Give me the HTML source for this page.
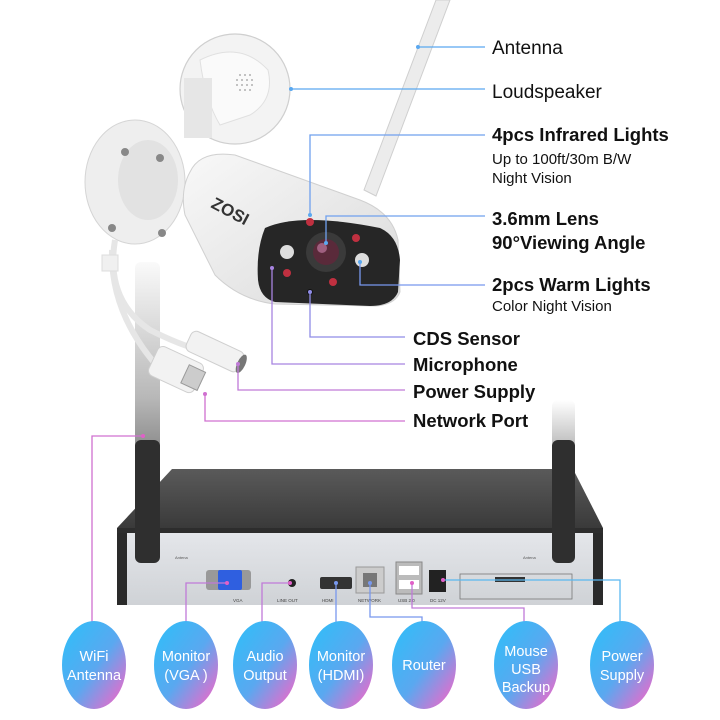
<!DOCTYPE html>
<html><head><meta charset="utf-8"><style>
body{margin:0;background:#fff;}
svg{display:block;font-family:"Liberation Sans",sans-serif;}
</style></head><body>
<svg width="720" height="720" viewBox="0 0 720 720" xmlns="http://www.w3.org/2000/svg">
<defs>
<linearGradient id="ant" x1="0" y1="0" x2="0" y2="1"><stop offset="0" stop-color="#fafafa"/><stop offset="0.45" stop-color="#b8b8b8"/><stop offset="1" stop-color="#2e2e2e"/></linearGradient>
<linearGradient id="antR" x1="0" y1="0" x2="0" y2="1"><stop offset="0" stop-color="#fff"/><stop offset="0.5" stop-color="#8a8a8a"/><stop offset="1" stop-color="#2e2e2e"/></linearGradient>
<linearGradient id="top" x1="0" y1="0" x2="0" y2="1"><stop offset="0" stop-color="#5a5a5a"/><stop offset="1" stop-color="#3a3a3a"/></linearGradient>
<linearGradient id="front" x1="0" y1="0" x2="0" y2="1"><stop offset="0" stop-color="#e4e6ea"/><stop offset="1" stop-color="#cfd2d6"/></linearGradient>
<linearGradient id="circ" x1="0.15" y1="0.2" x2="0.85" y2="0.9"><stop offset="0" stop-color="#3bb8f6"/><stop offset="0.5" stop-color="#5aa8f0"/><stop offset="1" stop-color="#d872cf"/></linearGradient>
<linearGradient id="body" x1="0" y1="0" x2="1" y2="1"><stop offset="0" stop-color="#f8f8f8"/><stop offset="1" stop-color="#dadada"/></linearGradient>
</defs>

<rect x="135" y="262" width="25" height="300" rx="6" fill="url(#ant)"/>
<rect x="552" y="400" width="23" height="162" rx="6" fill="url(#antR)"/>

<!-- camera antenna -->
<polygon points="436,0 450,0 376,196 364,190" fill="#ececec" stroke="#cfcfcf"/>

<!-- loudspeaker inset -->
<circle cx="235" cy="89" r="55" fill="#f3f3f3" stroke="#cfcfcf" stroke-width="1.2"/>
<path d="M200,60 Q240,40 268,70 Q275,100 250,115 L220,125 Q205,100 200,60Z" fill="#fafafa" stroke="#e0e0e0"/>
<rect x="184" y="78" width="28" height="60" fill="#e6e6e6"/>
<g fill="#9a9a9a">
<circle cx="240" cy="75" r="0.9"/><circle cx="245" cy="75" r="0.9"/><circle cx="250" cy="75" r="0.9"/>
<circle cx="237" cy="80" r="0.9"/><circle cx="242" cy="80" r="0.9"/><circle cx="247" cy="80" r="0.9"/><circle cx="252" cy="80" r="0.9"/>
<circle cx="237" cy="85" r="0.9"/><circle cx="242" cy="85" r="0.9"/><circle cx="247" cy="85" r="0.9"/><circle cx="252" cy="85" r="0.9"/>
<circle cx="240" cy="90" r="0.9"/><circle cx="245" cy="90" r="0.9"/><circle cx="250" cy="90" r="0.9"/>
</g>

<!-- camera mount -->
<ellipse cx="135" cy="182" rx="50" ry="62" fill="#eeeeee" stroke="#d5d5d5"/>
<ellipse cx="148" cy="180" rx="30" ry="40" fill="#e2e2e2"/>
<circle cx="125" cy="152" r="4" fill="#888"/><circle cx="160" cy="158" r="4" fill="#888"/><circle cx="162" cy="233" r="4" fill="#888"/><circle cx="112" cy="228" r="4" fill="#888"/>
<path d="M115,240 Q105,300 150,330 Q180,345 200,350" fill="none" stroke="#e6e6e6" stroke-width="6"/>
<path d="M112,250 Q110,320 170,380" fill="none" stroke="#e6e6e6" stroke-width="6"/>
<rect x="102" y="255" width="16" height="16" fill="#f0f0f0" stroke="#ddd"/>
<g transform="rotate(25 220 355)"><rect x="185" y="343" width="58" height="22" rx="6" fill="#f2f2f2" stroke="#cfcfcf"/><ellipse cx="243" cy="354" rx="4" ry="10" fill="#777"/></g>
<g transform="rotate(25 190 375)"><rect x="150" y="360" width="50" height="32" rx="6" fill="#f2f2f2" stroke="#cfcfcf"/><rect x="185" y="366" width="18" height="20" fill="#ccc" stroke="#999"/></g>

<!-- camera body -->
<path d="M190,172 Q200,150 235,155 L360,200 Q392,212 398,240 L400,292 Q395,305 375,306 L275,304 Q240,300 215,275 L185,215 Q180,190 190,172Z" fill="url(#body)" stroke="#d0d0d0"/>
<path d="M265,228 Q300,212 380,228 Q398,236 400,260 L398,292 Q392,306 370,306 L275,302 Q260,298 258,280 Q256,250 265,228Z" fill="#262626"/>
<text x="210" y="207" font-size="17" font-weight="bold" fill="#333" transform="rotate(28 210 207)">ZOSI</text>
<circle cx="326" cy="252" r="20" fill="#3a3a3a"/><circle cx="326" cy="252" r="13" fill="#5a2a3a"/><circle cx="322" cy="248" r="5" fill="#a06080"/>
<circle cx="287" cy="252" r="7" fill="#ddd"/><circle cx="362" cy="260" r="7" fill="#ddd"/>
<circle cx="310" cy="222" r="4" fill="#c03040"/><circle cx="356" cy="238" r="4" fill="#c03040"/><circle cx="287" cy="273" r="4" fill="#c03040"/><circle cx="333" cy="282" r="4" fill="#c03040"/>
<circle cx="310" cy="292" r="3" fill="#111"/>

<g fill="none" stroke-width="1.3">
<polyline points="418,47 485,47" stroke="#5aa8f0"/>
<polyline points="291,89 485,89" stroke="#5aa8f0"/>
<polyline points="310,215 310,135 485,135" stroke="#6fa0ee"/>
<polyline points="326,243 326,216 485,216" stroke="#6fa0ee"/>
<polyline points="360,262 360,285 485,285" stroke="#7898ee"/>
<polyline points="310,292 310,337 405,337" stroke="#8f8ce6"/>
<polyline points="272,268 272,364 405,364" stroke="#a884e0"/>
<polyline points="238,364 238,390 405,390" stroke="#c07ad8"/>
<polyline points="205,394 205,421 405,421" stroke="#d070d0"/>
</g>
<g fill="#5aa8f0"><circle cx="418" cy="47" r="2"/><circle cx="291" cy="89" r="2"/><circle cx="310" cy="215" r="2"/><circle cx="326" cy="243" r="2"/><circle cx="360" cy="262" r="2"/><circle cx="310" cy="292" r="2" fill="#8f8ce6"/><circle cx="272" cy="268" r="2" fill="#a884e0"/><circle cx="238" cy="364" r="2" fill="#c07ad8"/><circle cx="205" cy="394" r="2" fill="#d070d0"/></g>

<g fill="#111" font-size="19">
<text x="492" y="54">Antenna</text>
<text x="492" y="98">Loudspeaker</text>
<text x="492" y="141" font-weight="bold" font-size="18.5">4pcs Infrared Lights</text>
<text x="492" y="164" font-size="15">Up to 100ft/30m B/W</text>
<text x="492" y="183" font-size="15">Night Vision</text>
<text x="492" y="225" font-weight="bold" font-size="18.5">3.6mm Lens</text>
<text x="492" y="249" font-weight="bold" font-size="18.5">90°Viewing Angle</text>
<text x="492" y="291" font-weight="bold" font-size="18.5">2pcs Warm Lights</text>
<text x="492" y="311" font-size="15">Color Night Vision</text>
<text x="413" y="345" font-weight="bold" font-size="18.5">CDS Sensor</text>
<text x="413" y="371" font-weight="bold" font-size="18.5">Microphone</text>
<text x="413" y="398" font-weight="bold" font-size="18.5">Power Supply</text>
<text x="413" y="427" font-weight="bold" font-size="18.5">Network Port</text>
</g>

<!-- NVR -->
<polygon points="172,469 573,469 603,528 117,528" fill="url(#top)"/>
<rect x="117" y="528" width="486" height="6" fill="#2d2d2d"/>
<rect x="117" y="533" width="486" height="72" fill="url(#front)"/>
<rect x="117" y="533" width="10" height="72" fill="#2a2a2a"/>
<rect x="593" y="533" width="10" height="72" fill="#2a2a2a"/>
<rect x="135" y="440" width="25" height="123" rx="6" fill="#2f2f2f"/>
<rect x="552" y="440" width="23" height="123" rx="6" fill="#2f2f2f"/>
<text x="175" y="559" font-size="4" fill="#555">Antena</text>
<text x="523" y="559" font-size="4" fill="#555">Antena</text>
<rect x="206" y="570" width="45" height="20" rx="3" fill="#999"/>
<rect x="218" y="570" width="24" height="20" rx="2" fill="#2f5fe0"/>
<circle cx="292" cy="583" r="4" fill="#222"/>
<rect x="320" y="577" width="32" height="12" rx="2" fill="#333"/>
<rect x="356" y="567" width="28" height="26" fill="#ccc" stroke="#999"/>
<rect x="363" y="573" width="14" height="14" fill="#777"/>
<rect x="396" y="562" width="26" height="32" fill="#bbb" stroke="#888"/>
<rect x="399" y="566" width="20" height="9" fill="#fff"/><rect x="399" y="580" width="20" height="9" fill="#fff"/>
<rect x="429" y="570" width="17" height="22" fill="#222"/>
<rect x="460" y="574" width="112" height="25" fill="none" stroke="#777" stroke-width="0.8"/>
<rect x="495" y="577" width="30" height="5" fill="#333"/>
<g font-size="4.5" fill="#444"><text x="233" y="602">VGA</text><text x="277" y="602">LINE OUT</text><text x="322" y="602">HDMI</text><text x="358" y="602">NETWORK</text><text x="398" y="602">USB 2.0</text><text x="430" y="602">DC 12V</text></g>

<g fill="none" stroke-width="1.3">
<polyline points="143,436 92,436 92,622" stroke="#d070d0"/>
<polyline points="227,583 186,583 186,622" stroke="#c07ad8"/>
<polyline points="290,583 262,583 262,622" stroke="#c07ad8"/>
<polyline points="336,583 336,622" stroke="#7898ee"/>
<polyline points="370,583 370,617 422,617 422,622" stroke="#7898ee"/>
<polyline points="412,583 412,608 524,608 524,622" stroke="#c07ad8"/>
<polyline points="443,580 620,580 620,622" stroke="#5ab8f0"/>
</g>
<g fill="#e060c8"><circle cx="143" cy="436" r="2"/><circle cx="227" cy="583" r="2"/><circle cx="290" cy="583" r="2"/><circle cx="336" cy="583" r="2" fill="#7898ee"/><circle cx="370" cy="583" r="2" fill="#7898ee"/><circle cx="412" cy="583" r="2"/><circle cx="443" cy="580" r="2"/></g>

<g fill="url(#circ)">
<ellipse cx="94" cy="665" rx="32" ry="44"/><ellipse cx="186" cy="665" rx="32" ry="44"/><ellipse cx="265" cy="665" rx="32" ry="44"/><ellipse cx="341" cy="665" rx="32" ry="44"/><ellipse cx="424" cy="665" rx="32" ry="44"/><ellipse cx="526" cy="665" rx="32" ry="44"/><ellipse cx="622" cy="665" rx="32" ry="44"/>
</g>
<g fill="#fff" font-size="14.5" text-anchor="middle">
<text x="94" y="661">WiFi</text><text x="94" y="680">Antenna</text>
<text x="186" y="661">Monitor</text><text x="186" y="680">(VGA )</text>
<text x="265" y="661">Audio</text><text x="265" y="680">Output</text>
<text x="341" y="661">Monitor</text><text x="341" y="680">(HDMI)</text>
<text x="424" y="670">Router</text>
<text x="526" y="656">Mouse</text><text x="526" y="674">USB</text><text x="526" y="692">Backup</text>
<text x="622" y="661">Power</text><text x="622" y="680">Supply</text>
</g>
</svg>
</body></html>
